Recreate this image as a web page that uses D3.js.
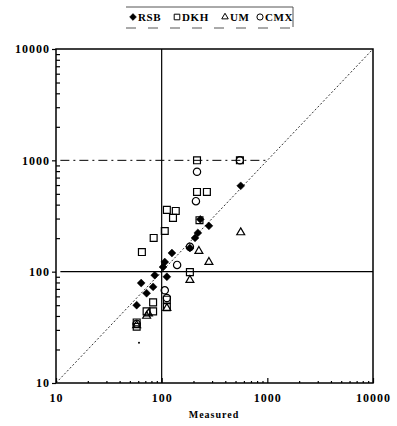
<!DOCTYPE html>
<html>
<head>
<meta charset="utf-8">
<script src="https://cdn.jsdelivr.net/npm/d3@7"></script>
<style>
  body { margin: 0; background: #fff; }
  text { font-family: "Liberation Serif", "DejaVu Serif", serif; }
</style>
</head>
<body>
<div id="chart"></div>
<script>
// Chart size and plot frame
const WIDTH = 397, HEIGHT = 426;
const margin = {top: 49, right: 24, bottom: 43, left: 56};
const plot_width = WIDTH - margin.left - margin.right;
const plot_height = HEIGHT - margin.top - margin.bottom;

// Data: [measured, predicted]
const rsb = [[58, 50], [64, 79], [72, 64], [83, 73], [86, 93], [103, 110], [107, 122],
    [112, 90], [125, 147], [185, 163], [207, 201], [220, 223], [232, 295], [280, 258], [560, 590]];
const dkh = [[58, 35], [58, 32], [72, 44], [83, 44], [83, 53], [112, 56], [112, 48],
    [65, 150], [84, 201], [107, 232], [128, 304], [112, 359], [136, 351], [185, 99],
    [228, 290], [216, 1000], [550, 1000], [216, 520], [268, 520]];
const um = [[58, 33], [72, 40], [75, 42], [112, 47], [185, 84], [225, 153], [280, 122], [560, 225]];
const cmx = [[58, 34], [107, 68], [112, 58], [140, 115], [185, 167], [211, 430], [216, 790], [550, 1000]];
const stray = [[61, 23]];

const series_names = ["RSB", "DKH", "UM", "CMX"];
const major_ticks = [10, 100, 1000, 10000];
const minor_ticks = [];
[10, 100, 1000].forEach(function(d) {
    for (let k = 2; k < 10; k++) minor_ticks.push(d * k);
});

let svg = d3.select("#chart")
    .append("svg")
    .attr("width", WIDTH)
    .attr("height", HEIGHT);

let g = svg.append("g")
    .attr("transform", `translate(${margin.left}, ${margin.top})`);

let x = d3.scaleLog().domain([10, 10000]).range([0, plot_width]);
let y = d3.scaleLog().domain([10, 10000]).range([plot_height, 0]);

// Reference lines
g.append("line")
    .attr("x1", x(10)).attr("y1", y(10))
    .attr("x2", x(10000)).attr("y2", y(10000))
    .attr("stroke", "#333").attr("stroke-width", 1)
    .attr("stroke-dasharray", "2,2");
g.append("line")
    .attr("x1", x(11)).attr("y1", y(100))
    .attr("x2", x(10000)).attr("y2", y(100))
    .attr("stroke", "#000").attr("stroke-width", 1.2);
g.append("line")
    .attr("x1", x(100)).attr("y1", y(10))
    .attr("x2", x(100)).attr("y2", y(10000))
    .attr("stroke", "#000").attr("stroke-width", 1.2);
g.append("line")
    .attr("x1", x(11)).attr("y1", y(1000))
    .attr("x2", x(1000)).attr("y2", y(1000))
    .attr("stroke", "#000").attr("stroke-width", 1)
    .attr("stroke-dasharray", "9,4,2,4");

// Axes
let y_axis = g.append("g")
    .call(d3.axisLeft(y).tickValues(major_ticks).tickSize(4).tickPadding(2)
        .tickFormat(d3.format("d")));
let y_minor = g.append("g")
    .call(d3.axisLeft(y).tickValues(minor_ticks).tickSize(-4).tickFormat(""));
let x_axis = g.append("g")
    .attr("transform", `translate(0, ${plot_height})`)
    .call(d3.axisBottom(x).tickValues(major_ticks).tickSize(-5).tickPadding(10)
        .tickFormat(d3.format("d")));
let x_minor = g.append("g")
    .attr("transform", `translate(0, ${plot_height})`)
    .call(d3.axisBottom(x).tickValues(minor_ticks).tickSize(-2).tickFormat(""));

[y_axis, y_minor, x_axis, x_minor].forEach(function(a) {
    a.select(".domain").remove();
    a.selectAll("line").attr("stroke-width", 1.2);
    a.selectAll("text")
        .style("font-size", "12px")
        .style("font-weight", "bold")
        .style("letter-spacing", "1px")
        .attr("fill", "#000");
});

// Plot frame
g.append("rect")
    .attr("width", plot_width).attr("height", plot_height)
    .attr("fill", "none").attr("stroke", "#000").attr("stroke-width", 1.5);

// Markers
const sym_diamond = d3.symbol().type(d3.symbolDiamond2).size(40);
const sym_square = d3.symbol().type(d3.symbolSquare2).size(60);
const sym_triangle = d3.symbol().type(d3.symbolTriangle2).size(45);
const sym_circle = d3.symbol().type(d3.symbolCircle).size(42);

function drawSeries(data, sym, filled) {
    g.append("g").selectAll("path")
        .data(data)
        .enter()
        .append("path")
        .attr("transform", function(d) { return `translate(${x(d[0])}, ${y(d[1])})`; })
        .attr("d", sym)
        .attr("fill", filled ? "#000" : "#fff")
        .attr("fill-opacity", filled ? 1 : 0)
        .attr("stroke", "#000")
        .attr("stroke-width", filled ? 0.5 : 1.2);
}
drawSeries(dkh, sym_square, false);
drawSeries(um, sym_triangle, false);
drawSeries(cmx, sym_circle, false);
drawSeries(rsb, sym_diamond, true);

g.append("g").selectAll("circle")
    .data(stray)
    .enter()
    .append("circle")
    .attr("cx", function(d) { return x(d[0]); })
    .attr("cy", function(d) { return y(d[1]); })
    .attr("r", 1)
    .attr("fill", "#000");

// Axis title
svg.append("text")
    .attr("x", margin.left + plot_width / 2 - 0.5)
    .attr("y", 418)
    .style("text-anchor", "middle")
    .style("font-size", "10px")
    .style("font-weight", "bold")
    .style("letter-spacing", "1px")
    .text("Measured");

// Legend
let legend = svg.append("g");
legend.append("line")
    .attr("x1", 126).attr("y1", 7).attr("x2", 293).attr("y2", 7)
    .attr("stroke", "#555").attr("stroke-width", 1);
legend.append("line")
    .attr("x1", 293).attr("y1", 7).attr("x2", 293).attr("y2", 27)
    .attr("stroke", "#555").attr("stroke-width", 1);
legend.append("line")
    .attr("x1", 126).attr("y1", 28).attr("x2", 293).attr("y2", 28)
    .attr("stroke", "#555").attr("stroke-width", 1)
    .attr("stroke-dasharray", "10,12");

const legend_sym_x = [133, 177, 225, 260];
const legend_syms = [d3.symbol().type(d3.symbolDiamond2).size(30),
    d3.symbol().type(d3.symbolSquare2).size(40),
    d3.symbol().type(d3.symbolTriangle2).size(30),
    d3.symbol().type(d3.symbolCircle).size(30)];
series_names.forEach(function(name, i) {
    legend.append("path")
        .attr("transform", `translate(${legend_sym_x[i]}, 17)`)
        .attr("d", legend_syms[i])
        .attr("fill", i === 0 ? "#000" : "none")
        .attr("stroke", "#000")
        .attr("stroke-width", i === 0 ? 0.5 : 1);
    legend.append("text")
        .attr("x", legend_sym_x[i] + 5)
        .attr("y", 21)
        .style("font-size", "11px")
        .style("font-weight", "bold")
        .style("letter-spacing", "0.6px")
        .text(name);
});
</script>
</body>
</html>
